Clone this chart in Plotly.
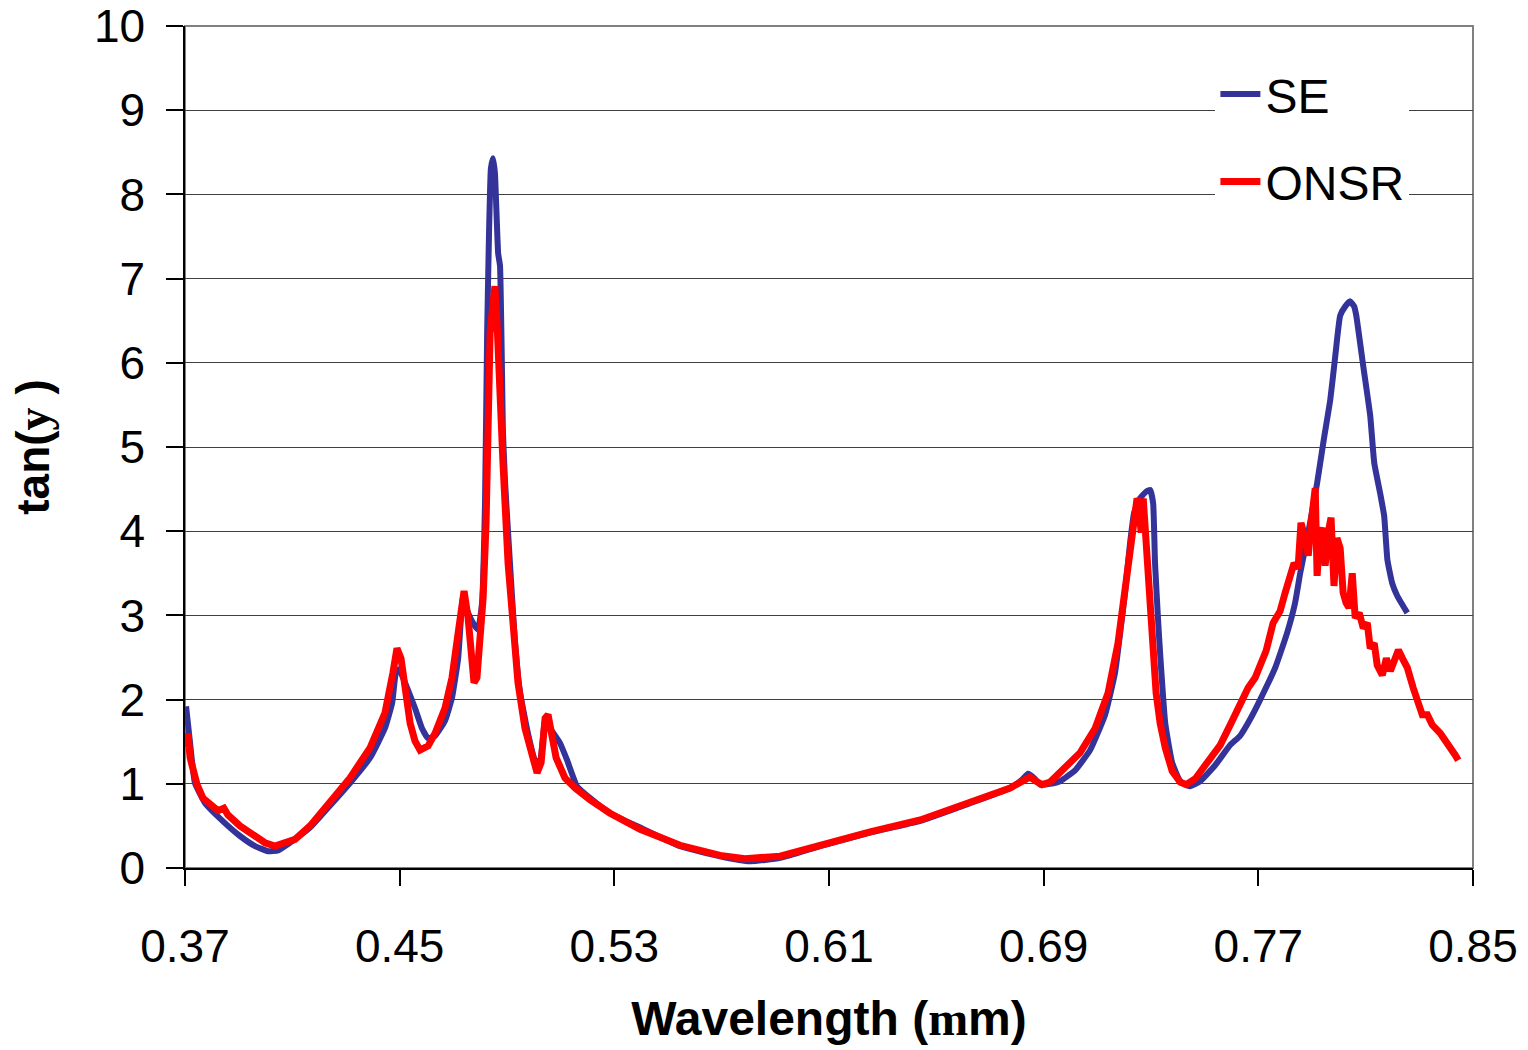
import plotly.graph_objects as go

# ---- data (wavelength in µm, tan(psi)) ----
se_x = [0.3704, 0.3719, 0.3737, 0.3775, 0.3830, 0.3905, 0.3961, 0.4009, 0.4047, 0.4091,
        0.4166, 0.4240, 0.4315, 0.4390, 0.4445, 0.4472, 0.4486, 0.4498, 0.4520, 0.4557,
        0.4583, 0.4606, 0.4632, 0.4669, 0.4695, 0.4718, 0.4736, 0.4755, 0.4777, 0.4792,
        0.4807, 0.4818, 0.4826, 0.4833, 0.4840, 0.4848, 0.4855, 0.4867, 0.4874, 0.4885,
        0.4893, 0.4911, 0.4930, 0.4949, 0.4978, 0.5005, 0.5023, 0.5042, 0.5060, 0.5098,
        0.5124, 0.5161, 0.5210, 0.5284, 0.5396, 0.5545, 0.5694, 0.5806, 0.5918, 0.6067,
        0.6253, 0.6440, 0.6626, 0.6775, 0.6820, 0.6842, 0.6864, 0.6887, 0.6924, 0.6961,
        0.7017, 0.7073, 0.7129, 0.7166, 0.7185, 0.7203, 0.7222, 0.7237, 0.7259, 0.7282,
        0.7297, 0.7308, 0.7315, 0.7327, 0.7334, 0.7353, 0.7379, 0.7409, 0.7446, 0.7483,
        0.7539, 0.7595, 0.7632, 0.7670, 0.7707, 0.7763, 0.7807, 0.7837, 0.7856, 0.7886,
        0.7919, 0.7945, 0.7968, 0.7986, 0.8005, 0.8024, 0.8042, 0.8057, 0.8065, 0.8091,
        0.8117, 0.8132, 0.8154, 0.8169, 0.8181, 0.8199, 0.8218, 0.8255]
se_y = [1.92, 1.48, 1.01, 0.77, 0.59, 0.38, 0.26, 0.20, 0.21, 0.30,
        0.48, 0.74, 1.01, 1.31, 1.66, 1.96, 2.32, 2.36, 2.20, 1.90,
        1.66, 1.54, 1.57, 1.75, 2.02, 2.49, 3.21, 3.03, 2.89, 2.83,
        3.15, 4.33, 6.35, 7.54, 8.31, 8.43, 8.25, 7.30, 7.15, 5.17,
        4.57, 3.62, 2.67, 2.08, 1.60, 1.28, 1.27, 1.75, 1.66, 1.48,
        1.28, 0.97, 0.83, 0.65, 0.48, 0.26, 0.14, 0.08, 0.12, 0.26,
        0.42, 0.56, 0.77, 0.95, 1.05, 1.12, 1.07, 0.99, 1.00, 1.03,
        1.16, 1.40, 1.82, 2.32, 2.79, 3.27, 3.86, 4.22, 4.39, 4.47,
        4.49, 4.33, 3.62, 2.91, 2.55, 1.72, 1.25, 1.03, 0.97, 1.03,
        1.22, 1.46, 1.57, 1.77, 2.00, 2.38, 2.79, 3.15, 3.50, 3.98,
        4.57, 5.11, 5.56, 6.06, 6.56, 6.67, 6.73, 6.67, 6.56, 5.96,
        5.37, 4.81, 4.45, 4.18, 3.66, 3.38, 3.23, 3.03]

onsr_x = [0.3707, 0.3711, 0.3719, 0.3730, 0.3745, 0.3767, 0.3793, 0.3823, 0.3845, 0.3860,
          0.3905, 0.3961, 0.3998, 0.4035, 0.4073, 0.4110, 0.4166, 0.4240, 0.4315, 0.4390,
          0.4445, 0.4475, 0.4490, 0.4505, 0.4520, 0.4539, 0.4557, 0.4576, 0.4606, 0.4632,
          0.4669, 0.4695, 0.4718, 0.4733, 0.4740, 0.4755, 0.4766, 0.4777, 0.4788, 0.4800,
          0.4811, 0.4822, 0.4829, 0.4837, 0.4848, 0.4855, 0.4863, 0.4874, 0.4885, 0.4904,
          0.4922, 0.4941, 0.4967, 0.4993, 0.5012, 0.5027, 0.5042, 0.5053, 0.5068, 0.5083,
          0.5116, 0.5154, 0.5210, 0.5284, 0.5396, 0.5545, 0.5694, 0.5787, 0.5918, 0.6067,
          0.6253, 0.6440, 0.6626, 0.6775, 0.6831, 0.6849, 0.6872, 0.6894, 0.6924, 0.6961,
          0.7036, 0.7092, 0.7140, 0.7177, 0.7203, 0.7222, 0.7237, 0.7248, 0.7256, 0.7263,
          0.7271, 0.7282, 0.7293, 0.7304, 0.7319, 0.7334, 0.7353, 0.7379, 0.7409, 0.7431,
          0.7465, 0.7502, 0.7558, 0.7603, 0.7632, 0.7662, 0.7688, 0.7707, 0.7729, 0.7755,
          0.7781, 0.7800, 0.7819, 0.7833, 0.7848, 0.7859, 0.7874, 0.7886, 0.7897, 0.7912,
          0.7919, 0.7930, 0.7938, 0.7949, 0.7960, 0.7971, 0.7982, 0.7993, 0.8005, 0.8016,
          0.8027, 0.8038, 0.8050, 0.8061, 0.8076, 0.8091, 0.8106, 0.8117, 0.8132, 0.8143,
          0.8162, 0.8177, 0.8192, 0.8207, 0.8222, 0.8237, 0.8255, 0.8277, 0.8296, 0.8311,
          0.8330, 0.8348, 0.8378, 0.8400, 0.8415, 0.8434, 0.8445]
onsr_y = [1.43, 1.60, 1.31, 1.13, 0.99, 0.83, 0.75, 0.68, 0.71, 0.63,
          0.50, 0.38, 0.30, 0.26, 0.30, 0.34, 0.50, 0.77, 1.07, 1.43,
          1.84, 2.32, 2.61, 2.49, 2.08, 1.72, 1.51, 1.40, 1.45, 1.60,
          1.90, 2.26, 2.79, 3.27, 3.29, 2.97, 2.55, 2.20, 2.26, 2.67,
          3.21, 4.10, 5.52, 6.35, 6.71, 6.91, 6.47, 5.56, 4.81, 3.62,
          2.79, 2.20, 1.66, 1.31, 1.13, 1.25, 1.78, 1.82, 1.54, 1.31,
          1.07, 0.95, 0.81, 0.65, 0.46, 0.27, 0.15, 0.11, 0.14, 0.27,
          0.43, 0.57, 0.77, 0.95, 1.05, 1.08, 1.03, 0.99, 1.02, 1.13,
          1.37, 1.66, 2.08, 2.67, 3.27, 3.80, 4.10, 4.39, 4.33, 3.98,
          4.39, 3.86, 3.27, 2.67, 2.08, 1.72, 1.43, 1.15, 1.02, 0.99,
          1.06, 1.22, 1.46, 1.75, 1.96, 2.14, 2.26, 2.43, 2.58, 2.91,
          3.05, 3.27, 3.44, 3.62, 3.56, 4.10, 3.92, 3.71, 4.10, 4.51,
          3.47, 3.98, 4.04, 3.59, 3.98, 4.16, 3.35, 3.92, 3.80, 3.27,
          3.15, 3.09, 3.50, 2.97, 3.03, 2.85, 2.91, 2.61, 2.67, 2.41,
          2.29, 2.49, 2.34, 2.46, 2.59, 2.49, 2.38, 2.14, 1.96, 1.82,
          1.82, 1.70, 1.60, 1.51, 1.43, 1.34, 1.28]

x_ticks = [0.37, 0.45, 0.53, 0.61, 0.69, 0.77, 0.85]
x_tick_labels = ["0.37", "0.45", "0.53", "0.61", "0.69", "0.77", "0.85"]
y_ticks = list(range(0, 11))

FONT = "Liberation Sans, Arial, sans-serif"

fig = go.Figure()
fig.add_trace(go.Scatter(x=se_x, y=se_y, mode="lines", name="SE", legendgroup="se",
                         line=dict(color="#333399", width=6, shape="spline", smoothing=0.4)))
fig.add_trace(go.Scatter(x=onsr_x, y=onsr_y, mode="lines", name="ONSR", legendgroup="onsr",
                         line=dict(color="#FF0000", width=7)))

fig.update_layout(
    width=1528, height=1050,
    margin=dict(l=185, r=55, t=26, b=182),
    paper_bgcolor="white", plot_bgcolor="white",
    font=dict(family=FONT, color="black"),
    showlegend=True,
    legend=dict(x=0.80, y=0.964, xanchor="left", yanchor="top",
                bgcolor="white", borderwidth=0,
                font=dict(size=48, family=FONT, color="black"),
                traceorder="grouped", tracegroupgap=22, itemwidth=40),
    xaxis=dict(range=[0.37, 0.85], tickvals=x_ticks, ticktext=x_tick_labels,
               automargin=False,
               showgrid=False, zeroline=False,
               showline=True, linecolor="black", linewidth=1.5,
               ticks="outside", ticklen=16, tickcolor="black", tickwidth=1.5,
               ticklabelstandoff=21,
               tickfont=dict(size=46, family=FONT, color="black"),
               title=dict(text="Wavelength (<span style='font-family:Liberation Serif'>m</span>m)",
                          font=dict(size=48, family=FONT, color="black", weight="bold"),
                          standoff=30)),
    yaxis=dict(range=[0, 10], tickvals=y_ticks,
               automargin=False,
               showgrid=True, gridcolor="#404040", gridwidth=1, zeroline=False,
               showline=True, linecolor="black", linewidth=1.5,
               ticks="outside", ticklen=17, tickcolor="black", tickwidth=1.5,
               ticklabelstandoff=12, ticklabeloverflow="allow",
               tickfont=dict(size=46, family=FONT, color="black"),
               title=dict(text="tan(<span style='font-family:Liberation Serif'>y</span> )",
                          font=dict(size=46, family=FONT, color="black", weight="bold"),
                          standoff=30)),
    shapes=[dict(type="rect", xref="paper", yref="paper", x0=0, x1=1, y0=0, y1=1,
                 line=dict(color="#808080", width=2), fillcolor="rgba(0,0,0,0)", layer="below")],
)

fig.write_html("out.html")
